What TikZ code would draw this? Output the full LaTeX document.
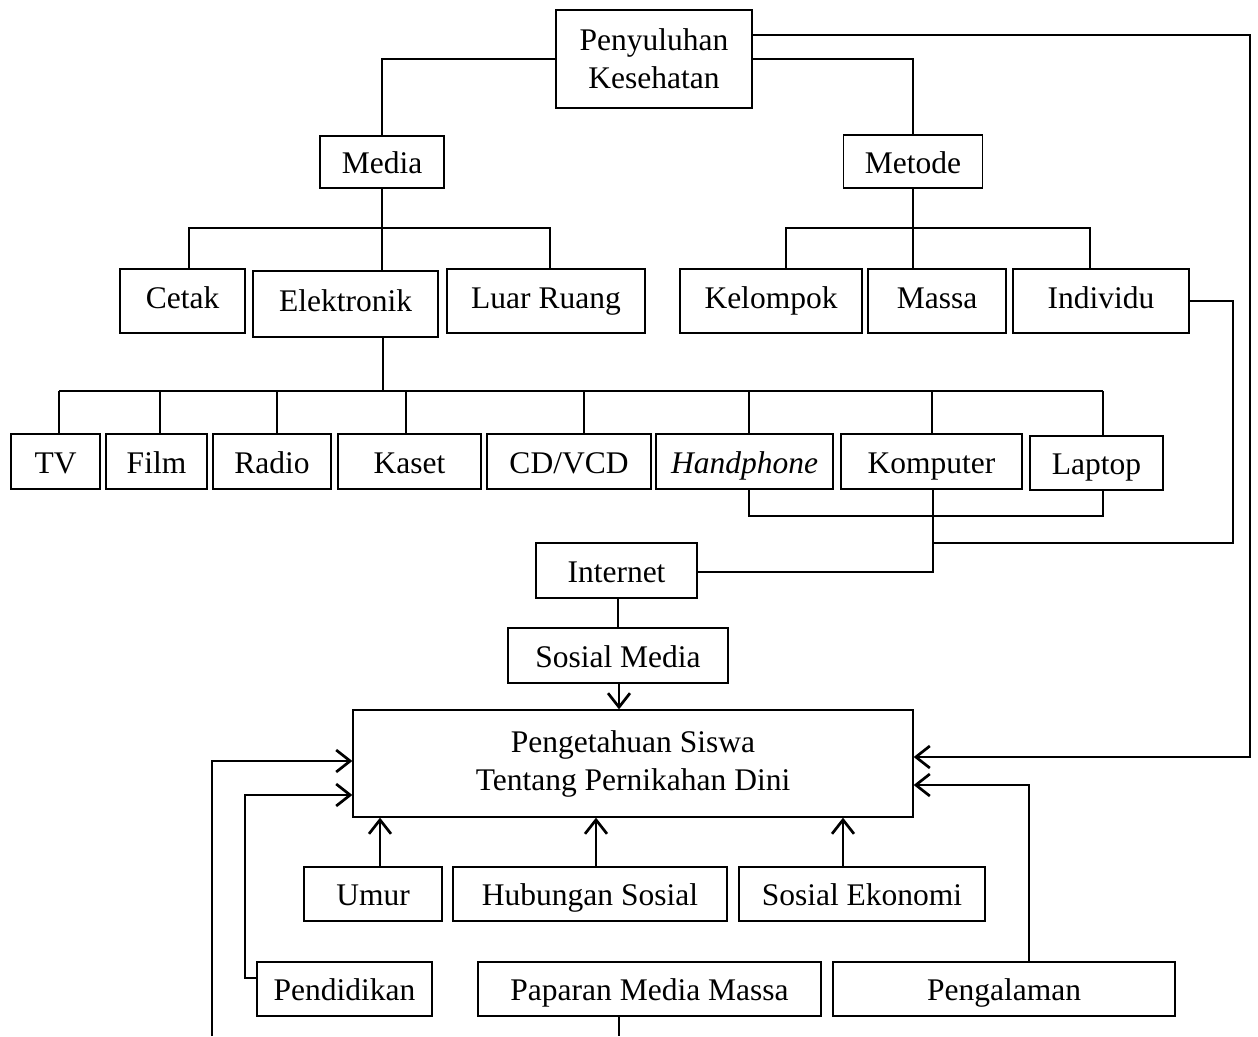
\documentclass[tikz,border=0pt]{standalone}
\usepackage{fontspec}
\setmainfont{Liberation Serif}
\usetikzlibrary{arrows.meta}
\begin{document}
\begin{tikzpicture}[x=1pt,y=-1pt,
  box/.style={draw, line width=1.3pt, inner sep=0pt, align=center, font=\fontsize{31.5}{38}\selectfont},
  one/.style={box, text height=22pt, text depth=7pt},
  low/.style={box, text height=26pt, text depth=3pt},
  conn/.style={line width=2.7pt},
  arr/.style={conn, -{Straight Barb[length=14pt,width=22pt]}}]
\useasboundingbox (0,0) rectangle (1258,1036);
% nodes
\node[box, minimum width=196pt, minimum height=98pt] (pk) at (654,59) {Penyuluhan\\Kesehatan};
\node[low, minimum width=124pt, minimum height=52pt] (media) at (382,162) {Media};
\node[low, minimum width=139pt, minimum height=53pt] (metode) at (913,161.5) {Metode};
\node[one, minimum width=125pt, minimum height=64pt] (cetak) at (182.5,301) {Cetak};
\node[one, minimum width=185pt, minimum height=66pt] (elektronik) at (345.5,304) {Elektronik};
\node[one, minimum width=198pt, minimum height=64pt] (luar) at (546,301) {Luar Ruang};
\node[one, minimum width=182pt, minimum height=64pt] (kelompok) at (771,301) {Kelompok};
\node[one, minimum width=138pt, minimum height=64pt] (massa) at (937,301) {Massa};
\node[one, minimum width=176pt, minimum height=64pt] (individu) at (1101,301) {Individu};
\node[low, minimum width=89pt, minimum height=55pt] (tv) at (55.5,461.5) {TV};
\node[low, minimum width=101pt, minimum height=55pt] (film) at (156.5,461.5) {Film};
\node[low, minimum width=118pt, minimum height=55pt] (radio) at (272,461.5) {Radio};
\node[low, minimum width=143pt, minimum height=55pt] (kaset) at (409.5,461.5) {Kaset};
\node[low, minimum width=164pt, minimum height=55pt] (cdvcd) at (569,461.5) {CD/VCD};
\node[low, minimum width=177pt, minimum height=55pt] (hp) at (744.5,461.5) {\itshape Handphone};
\node[low, minimum width=181pt, minimum height=55pt] (komputer) at (931.5,461.5) {Komputer};
\node[low, minimum width=133pt, minimum height=54pt] (laptop) at (1096.5,463) {Laptop};
\node[low, minimum width=161pt, minimum height=55pt] (internet) at (616.5,570.5) {Internet};
\node[low, minimum width=220pt, minimum height=55pt] (sosial) at (618,655.5) {Sosial Media};
\node[box, minimum width=560pt, minimum height=107pt] (pkn) at (633,763.5) {Pengetahuan Siswa\\Tentang Pernikahan Dini};
\node[low, minimum width=138pt, minimum height=54pt] (umur) at (373,894) {Umur};
\node[low, minimum width=274pt, minimum height=54pt] (hub) at (590,894) {Hubungan Sosial};
\node[low, minimum width=246pt, minimum height=54pt] (sek) at (862,894) {Sosial Ekonomi};
\node[low, minimum width=175pt, minimum height=54pt] (pendidikan) at (344.5,989) {Pendidikan};
\node[low, minimum width=343pt, minimum height=54pt] (paparan) at (649.5,989) {Paparan Media Massa};
\node[low, minimum width=342pt, minimum height=54pt] (pengalaman) at (1004,989) {Pengalaman};
% off-page ends
\coordinate (offL) at (212,1036);
\coordinate (offM) at (619,1036);
% top level
\draw[conn] (pk.west) -| (media.north);
\draw[conn] (pk.east) -| (metode.north);
\draw[arr] (pk.east |- 0,35) -- (1250,35) -- (1250,757) -- (pkn.east |- 0,757);
% media tree
\draw[conn] (media.south) -- (elektronik.north -| media.south);
\draw[conn] (cetak.north -| 189,0) -- (189,228) -- (550,228) -- (luar.north -| 550,0);
% metode tree
\draw[conn] (metode.south) -- (massa.north -| metode.south);
\draw[conn] (kelompok.north -| 786,0) -- (786,228) -- (1090,228) -- (individu.north -| 1090,0);
% elektronik tree
\draw[conn] (elektronik.south -| 383,0) -- (383,391);
\draw[conn] (59,391) -- (1103,391);
\foreach \n/\x in {tv/59,film/160,radio/277,kaset/406,cdvcd/584,hp/749,komputer/932,laptop/1103}
  \draw[conn] (\x,391) -- (\n.north -| \x,0);
\draw[conn] (hp.south -| 749,0) -- (749,516) -- (1103,516) -- (laptop.south -| 1103,0);
\draw[conn] (komputer.south -| 933,0) -- (933,572) -- (internet.east |- 0,572);
\draw[conn] (individu.east) -- (1233,301) -- (1233,543) -- (933,543);
% internet
\draw[conn] (internet.south -| 618,0) -- (sosial.north -| 618,0);
\draw[arr] (sosial.south -| 619,0) -- (pkn.north -| 619,0);
% factors
\draw[arr] (umur.north -| 380,0) -- (pkn.south -| 380,0);
\draw[arr] (hub.north -| 596,0) -- (pkn.south -| 596,0);
\draw[arr] (sek.north -| 843,0) -- (pkn.south -| 843,0);
\draw[arr] (pengalaman.north -| 1029,0) -- (1029,785) -- (pkn.east |- 0,785);
\draw[arr] (pendidikan.west |- 0,978) -- (245,978) -- (245,795) -- (pkn.west |- 0,795);
\draw[arr] (offL) -- (212,761) -- (pkn.west |- 0,761);
\draw[conn] (paparan.south -| offM) -- (offM);
\end{tikzpicture}
\end{document}
